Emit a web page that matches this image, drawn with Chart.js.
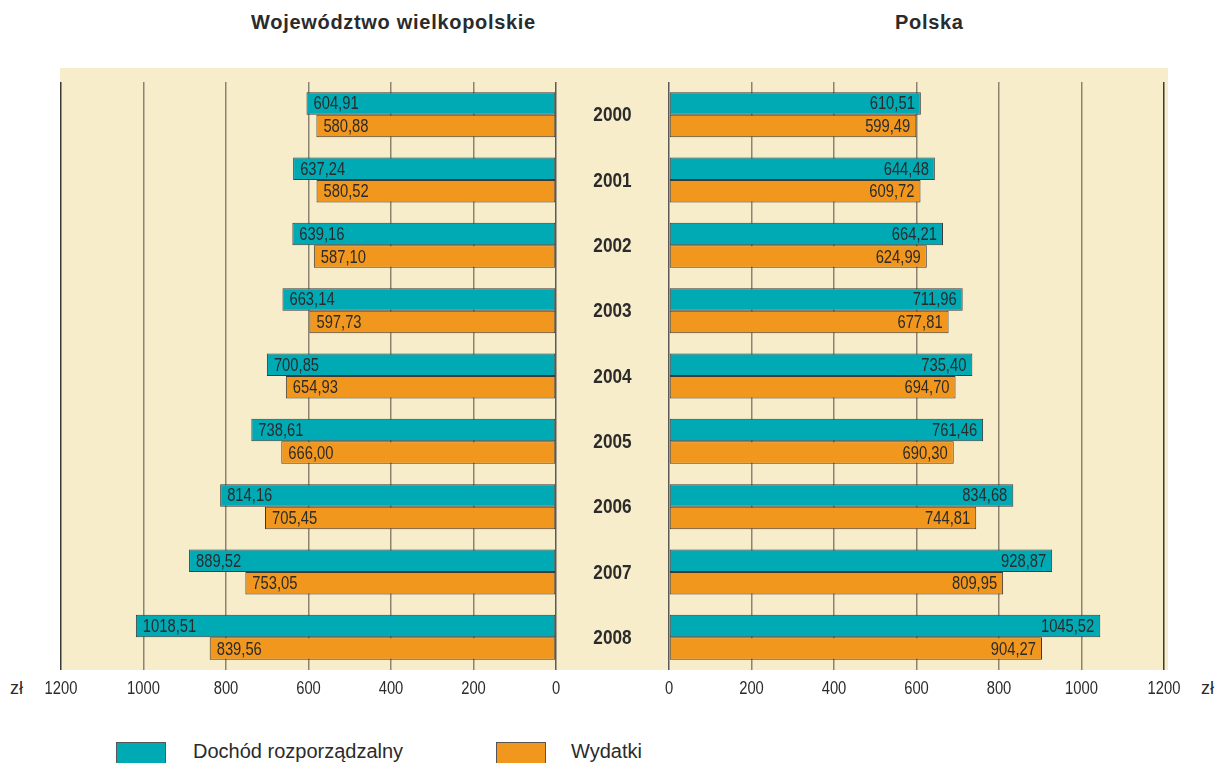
<!DOCTYPE html>
<html lang="pl">
<head>
<meta charset="utf-8">
<title>Dochód rozporządzalny i wydatki</title>
<script src="https://cdn.jsdelivr.net/npm/chart.js@4"></script>
<style>
  body { margin: 0; width: 1220px; height: 763px; background: #fff; position: relative; overflow: hidden;
         font-family: 'Liberation Sans', Arial, sans-serif; color: #2b2b2b; }
  #panel { position: absolute; left: 60px; top: 68px; width: 1108px; height: 602px; background: #F7EDCA; }
  .title { position: absolute; top: 11px; font-weight: bold; font-size: 20px; letter-spacing: 0.7px; }
  .unit  { position: absolute; top: 678px; font-size: 18px; }
  .key   { position: absolute; top: 742px; width: 50px; height: 30px; box-sizing: border-box; border: 1px solid #555; }
  .keytx { position: absolute; top: 740px; font-size: 20px; }
  canvas { position: absolute; top: 82px; }
</style>
</head>
<body>
<div id="panel"></div>
<div class="title" style="left:251px">Województwo wielkopolskie</div>
<div class="title" style="left:895px">Polska</div>
<div class="unit" style="left:10px">zł</div>
<div class="unit" style="left:1201px">zł</div>
<div class="key" style="left:116px;background:#00AAB5"></div>
<div class="keytx" style="left:193px">Dochód rozporządzalny</div>
<div class="key" style="left:496px;background:#F2971E"></div>
<div class="keytx" style="left:571px">Wydatki</div>
<canvas id="left" width="669" height="618" style="left:0"></canvas>
<canvas id="right" width="600" height="618" style="left:600px"></canvas>
<script>
  // ---- Data (zł, per person per month) ---------------------------------------
  const years = ['2000', '2001', '2002', '2003', '2004', '2005', '2006', '2007', '2008'];
  const wlkpIncome   = [604.91, 637.24, 639.16, 663.14, 700.85, 738.61, 814.16, 889.52, 1018.51];
  const wlkpSpending = [580.88, 580.52, 587.10, 597.73, 654.93, 666.00, 705.45, 753.05, 839.56];
  const plIncome     = [610.51, 644.48, 664.21, 711.96, 735.40, 761.46, 834.68, 928.87, 1045.52];
  const plSpending   = [599.49, 609.72, 624.99, 677.81, 694.70, 690.30, 744.81, 809.95, 904.27];
  const seriesNames  = ['Dochód rozporządzalny', 'Wydatki'];

  const TEAL   = '#00AAB5';
  const ORANGE = '#F2971E';
  const INK    = '#2b2b2b';

  function fmt(v) { return v.toFixed(2).replace('.', ','); }

  // The original uses a condensed face; no narrow font is installed, so squeeze Liberation Sans.
  function narrowText(ctx, txt, x, y, align, font, squeeze) {
    ctx.save();
    ctx.translate(x, y);
    ctx.scale(squeeze, 1);
    ctx.font = font;
    ctx.fillStyle = INK;
    ctx.textAlign = align;
    ctx.textBaseline = 'middle';
    ctx.fillText(txt, 0, 0);
    ctx.restore();
  }

  // value labels at the outer end of bars + axis tick text + year labels
  const textLayer = {
    id: 'textLayer',
    afterDatasetsDraw(chart, args, opts) {
      const ctx = chart.ctx;
      const valFont = "18px 'Liberation Sans', Arial, sans-serif";
      chart.data.datasets.forEach(function (ds, i) {
        chart.getDatasetMeta(i).data.forEach(function (bar, j) {
          const txt = fmt(ds.data[j]);
          if (opts.side === 'left') narrowText(ctx, txt, bar.x + 7, bar.y + 1, 'left', valFont, 0.82);
          else narrowText(ctx, txt, bar.x - 6, bar.y + 1, 'right', valFont, 0.82);
        });
      });

      const xs = chart.scales.x;
      const tickY = chart.chartArea.bottom + 19;
      xs.ticks.forEach(function (t) {
        narrowText(ctx, String(t.value), xs.getPixelForValue(t.value), tickY, 'center', valFont, 0.82);
      });

      if (opts.side === 'left') {
        const ys = chart.scales.y;
        const midX = chart.chartArea.right + 56.5;
        chart.data.labels.forEach(function (lab, i) {
          narrowText(ctx, lab, midX, ys.getPixelForValue(i) + 1, 'center',
                     "bold 20px 'Liberation Sans', Arial, sans-serif", 0.86);
        });
      }
    }
  };

  function datasets(income, spending) {
    return [income, spending].map(function (data, i) {
      return {
        label: seriesNames[i],
        data: data,
        backgroundColor: i === 0 ? TEAL : ORANGE,
        borderColor: '#3a3a3a',
        borderWidth: 1,
        borderSkipped: false,
        categoryPercentage: 0.69,
        barPercentage: 1.0
      };
    });
  }

  function xScale(reverse) {
    return {
      type: 'linear', min: 0, max: 1200, reverse: reverse,
      border: { display: false },
      grid: {
        drawTicks: false,
        lineWidth: 1.5,
        color: function (c) {
          if (c.tick && c.tick.value === 1200) return '#3a3a3a';
          if (c.tick && c.tick.value === 0) return '#5a5a5a';
          return '#8c8471';
        }
      },
      ticks: { stepSize: 200, display: false },
      afterFit: function (s) { s.height = 30; }
    };
  }

  const common = {
    indexAxis: 'y',
    responsive: false,
    animation: false,
    devicePixelRatio: 1,
    plugins: { legend: { display: false }, tooltip: { enabled: false } }
  };

  new Chart(document.getElementById('left'), {
    type: 'bar',
    data: { labels: years, datasets: datasets(wlkpIncome, wlkpSpending) },
    options: Object.assign({}, common, {
      layout: { padding: { left: 61, right: 113, top: 0, bottom: 0 } },
      scales: { x: xScale(true), y: { display: false } },
      plugins: Object.assign({}, common.plugins, { textLayer: { side: 'left' } })
    }),
    plugins: [textLayer]
  });

  new Chart(document.getElementById('right'), {
    type: 'bar',
    data: { labels: years, datasets: datasets(plIncome, plSpending) },
    options: Object.assign({}, common, {
      layout: { padding: { left: 69, right: 36, top: 0, bottom: 0 } },
      scales: { x: xScale(false), y: { display: false } },
      plugins: Object.assign({}, common.plugins, { textLayer: { side: 'right' } })
    }),
    plugins: [textLayer]
  });
</script>
</body>
</html>
